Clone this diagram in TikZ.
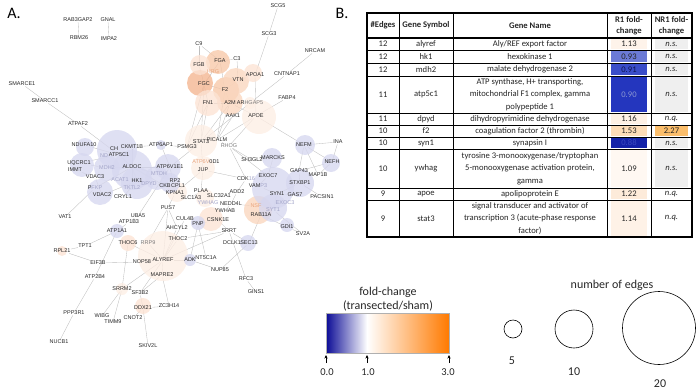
\documentclass[tikz,border=0pt]{standalone}
\usepackage{fontspec}
\setmainfont{Carlito}
\newfontfamily\netfont{Liberation Sans}
\usetikzlibrary{arrows.meta,backgrounds}
\definecolor{lk}{HTML}{262626}
\definecolor{gb}{HTML}{A2A4C8}
\definecolor{go}{HTML}{E9A67F}
\definecolor{gg}{HTML}{7A7A7A}
\definecolor{edgec}{HTML}{BEBEBE}
\definecolor{bl}{HTML}{D6D7EF}
\definecolor{o1}{HTML}{F4B590}
\definecolor{o2}{HTML}{F7C8A8}
\definecolor{o3}{HTML}{FAD6BE}
\definecolor{o4}{HTML}{FCE3D4}
\definecolor{o5}{HTML}{FDEEE4}
\definecolor{fbar}{HTML}{0B0B96}
\definecolor{obar}{HTML}{FF7A00}
\definecolor{ralyref}{HTML}{FEF3EA}
\definecolor{rhk}{HTML}{6B7AD6}
\definecolor{rmdh}{HTML}{3A4DC9}
\definecolor{ratp}{HTML}{2436BE}
\definecolor{rdpyd}{HTML}{FEF1E5}
\definecolor{rf}{HTML}{FDDDB8}
\definecolor{rsyn}{HTML}{1422A8}
\definecolor{rywhag}{HTML}{FFF8F2}
\definecolor{rapoe}{HTML}{FDEBDA}
\definecolor{rstat}{HTML}{FEF2E7}
\definecolor{nsgray}{HTML}{EFEFEF}
\definecolor{nforange}{HTML}{FBBE6C}
\definecolor{tmdh}{HTML}{0E1450}
\definecolor{tatp}{HTML}{8A96D2}
\definecolor{tsyn}{HTML}{3A4AC0}
\definecolor{barframe}{HTML}{B0B0B0}
\tikzset{
 lbl/.style={font=\netfont\fontsize{5.5}{6}\selectfont, text=lk, inner sep=0.3pt},
 lblb/.style={lbl, text=gb},
 lblo/.style={lbl, text=go},
 lblg/.style={lbl, text=gg},
 edge/.style={draw=edgec, line width=0.35pt},
 tcell/.style={font=\fontsize{8.6}{12.3}\selectfont, inner sep=0pt, align=center, text=lk},
 thead/.style={tcell, font=\bfseries\fontsize{8.6}{11}\selectfont},
 leg/.style={font=\fontsize{12}{14}\selectfont, inner sep=0pt, text=lk},
 tick/.style={font=\fontsize{10.5}{12}\selectfont, inner sep=0pt, text=lk},
 sizec/.style={draw=black, circle, inner sep=0pt, line width=0.6pt},
 upar/.style={-{Stealth[length=3.6pt,width=3.2pt]}, line width=0.4pt},
}
\newcommand\netbub[4]{\fill[#4, fill opacity=0.78] (#1,#2) circle[radius=#3pt];}
\begin{document}
\begin{tikzpicture}[x=1pt,y=-1pt]
\path[use as bounding box] (0,0) rectangle (696,391);
\node[font=\fontsize{16}{18}\selectfont, inner sep=0pt] (titleA) at (14,13) {A.};
\node[font=\fontsize{16}{18}\selectfont, inner sep=0pt] (titleB) at (342,13) {B.};

% ---------------- network labels
\node[lbl] (RAB3GAP2) at (78,20) {RAB3GAP2};
\node[lbl] (RBM26) at (79,38) {RBM26};
\node[lbl] (GNAL) at (108,20) {GNAL};
\node[lbl] (IMPA2) at (109,39) {IMPA2};
\node[lbl] (SMARCE1) at (22,84) {SMARCE1};
\node[lbl] (SMARCC1) at (45,101) {SMARCC1};
\node[lbl] (ATPAF2) at (78,124) {ATPAF2};
\node[lbl] (SCG5) at (278,6) {SCG5};
\node[lbl] (SCG3) at (269,34) {SCG3};
\node[lbl] (NRCAM) at (315,51) {NRCAM};
\node[lbl] (CNTNAP1) at (287,74) {CNTNAP1};
\node[lbl] (FABP4) at (287,98) {FABP4};
\node[lbl] (C9) at (199,44) {C9};
\node[lbl] (FGB) at (199,65) {FGB};
\node[lbl] (FGA) at (220,61) {FGA};
\node[lbl] (C3) at (237,59) {C3};
\node[lblo] (HRG) at (213,72) {HRG};
\node[lbl] (FGC) at (204,84) {FGC};
\node[lbl] (F2) at (225,90) {F2};
\node[lbl] (VTN) at (238,80) {VTN};
\node[lbl] (APOA1) at (255,75) {APOA1};
\node[lbl] (FN1) at (208,103) {FN1};
\node[lbl] (A2M) at (230,103) {A2M};
\node[lbl] (ARHGAP5) at (250,103) {AR{\color{gg}HGAP5}};
\node[lbl] (AAK1) at (233,116) {AAK1};
\node[lbl] (APOE) at (256,116) {APOE};
\node[lbl] (PSMG3) at (187,147) {PSMG3};
\node[lbl] (STAT3) at (201,142) {STAT3};
\node[lbl] (PICALM) at (217,140) {PICALM};
\node[lblg] (RHOG) at (229,146) {RHOG};
\node[lbl] (ATP6V0D1) at (206,162) {{\color{go}ATP6V}0D1};
\node[lbl] (JUP) at (203,170) {JUP};
\node[lbl] (NEFM) at (304,145) {NEFM};
\node[lbl] (INA) at (338,142) {INA};
\node[lbl] (NEFH) at (332,162) {NEFH};
\node[lbl] (SH3GL2) at (252,160) {SH3GL2};
\node[lbl] (MARCKS) at (273,158) {MARCKS};
\node[lbl] (EXOC7) at (268,176) {EXOC7};
\node[lbl] (GAP43) at (299,171) {GAP43};
\node[lbl] (MAP1B) at (318,175) {MAP1B};
\node[lbl] (STXBP1) at (300,183) {STXBP1};
\node[lbl] (CDK16) at (246,179) {CDK{\color{gb}16}};
\node[lbl] (VAMP3) at (258,186) {VAM{\color{gb}P3}};
\node[lbl] (ADD2) at (237,192) {ADD2};
\node[lbl] (SYN1) at (277,194) {SYN1};
\node[lbl] (GAS7) at (295,195) {GAS7};
\node[lbl] (PACSIN1) at (322,197) {PACSIN1};
\node[lblb] (EXOC3) at (285,203) {EXOC3};
\node[lblo] (NSF) at (256,206) {NSF};
\node[lblb] (SYT1) at (273,210) {SYT1};
\node[lbl] (RAB11A) at (261,215) {RAB11A};
\node[lbl] (GDI1) at (287,227) {GDI1};
\node[lbl] (SV2A) at (303,234) {SV2A};
\node[lbl] (SLC32A1) at (219,196) {SLC32A1};
\node[lbl] (NEDD4L) at (231,204) {NEDD4L};
\node[lbl] (YWHAB) at (225,211) {YWHAB};
\node[lblb] (YWHAG) at (208,203) {YWHAG};
\node[lbl] (PLAA) at (201,191) {PLAA};
\node[lbl] (SLC1A3) at (191,198) {SLC1A3};
\node[lbl] (KPNA1) at (175,193) {KPNA1};
\node[lbl] (PUS7) at (168,208) {PUS7};
\node[lbl] (CUL4B) at (185,219) {CUL4B};
\node[lbl] (PNP) at (198,224) {PNP};
\node[lbl] (CSNK1E) at (218,220) {CSNK1E};
\node[lbl] (AHCYL2) at (177,228) {AHCYL2};
\node[lbl] (SRRT) at (229,231) {SRRT};
\node[lbl] (THOC2) at (178,239) {THOC2};
\node[lbl] (DCLK1) at (232,243) {DCLK1};
\node[lbl] (SEC13) at (249,243) {SEC13};
\node[lbl] (UBA5) at (138,216) {UBA5};
\node[lbl] (ATP1B3) at (129,222) {ATP1B3};
\node[lbl] (ATP1A1) at (117,231) {ATP1A1};
\node[lbl] (VAT1) at (65,217) {VAT1};
\node[lbl] (RPL21) at (62,251) {RPL21};
\node[lbl] (TPT1) at (85,246) {TPT1};
\node[lbl] (THOC6) at (128,243) {THOC6};
\node[lblg] (RRP9) at (148,243) {RRP9};
\node[lbl] (EIF3B) at (98,263) {EIF3B};
\node[lbl] (NOP58) at (142,262) {NOP58};
\node[lbl] (ALYREF) at (163,260) {ALYREF};
\node[lbl] (ADK) at (190,260) {ADK};
\node[lbl] (NT5C1A) at (206,258) {NT5C1A};
\node[lbl] (NUP85) at (220,270) {NUP85};
\node[lbl] (MAPRE2) at (162,275) {MAPRE2};
\node[lbl] (ATP2B4) at (95,277) {ATP2B4};
\node[lbl] (SRRM2) at (122,289) {SRRM2};
\node[lbl] (SF3B2) at (140,293) {SF3B2};
\node[lbl] (ZC3H14) at (169,306) {ZC3H14};
\node[lbl] (DDX21) at (143,308) {DDX21};
\node[lbl] (PPP3R1) at (74,313) {PPP3R1};
\node[lbl] (WIBG) at (102,316) {WIBG};
\node[lbl] (CNOT2) at (133,318) {CNOT2};
\node[lbl] (TIMM9) at (113,322) {TIMM9};
\node[lbl] (NUCB1) at (59,342) {NUCB1};
\node[lbl] (SKIV2L) at (148,346) {SKIV2L};
\node[lbl] (RFC3) at (246,279) {RFC3};
\node[lbl] (GINS1) at (256,292) {GINS1};
\node[lbl] (NDUFA10) at (84,145) {NDUFA10};
\node[lbl] (CKMT1B) at (132,147) {CKMT1B};
\node[lbl] (CH) at (114,149) {CH};
\node[lblb] (ND) at (104,156) {ND};
\node[lbl] (ATP5C1) at (119,155) {ATP5C1};
\node[lbl] (ATP6AP1) at (161,145) {ATP6AP1};
\node[lbl] (UQCRC1) at (79,163) {UQCRC1};
\node[lbl] (IMMT) at (75,170) {IMMT};
\node[lblb] (MDH2) at (107,168) {MDH2};
\node[lbl] (ALDOC) at (132,167) {ALDOC};
\node[lbl] (ATP6V1E1) at (170,167) {ATP6V1E1};
\node[lblb] (MTDH) at (159,174) {MTDH};
\node[lbl] (VDAC3) at (95,177) {VDAC3};
\node[lblb] (ACAT1) at (120,180) {ACAT1};
\node[lbl] (HK1) at (137,181) {HK1};
\node[lblb] (DPYD) at (149,184) {DPYD};
\node[lbl] (RP2) at (175,181) {RP2};
\node[lbl] (CKB) at (165,186) {CKB};
\node[lbl] (CPL1) at (178,186) {CPL1};
\node[lblb] (TKTL2) at (132,188) {TKTL2};
\node[lbl] (PFKP) at (95,188) {P{\color{gb}FKP}};
\node[lbl] (VDAC2) at (102,195) {VDAC2};
\node[lbl] (CRYL1) at (123,197) {CRYL1};

% ---------------- edges and bubbles behind
\begin{scope}[on background layer]
\foreach \a/\b in {RAB3GAP2/RBM26, GNAL/IMPA2, SMARCE1/SMARCC1, SMARCC1/ATPAF2, ATPAF2/ATP5C1,
 SCG5/SCG3, SCG3/APOA1, NRCAM/CNTNAP1, CNTNAP1/ARHGAP5, FABP4/APOE,
 C9/FGA, C9/FGB, FGB/FGC, FGA/FGC, FGA/F2, FGA/C3, C3/VTN, FGC/F2, F2/VTN, VTN/APOA1, F2/A2M,
 A2M/APOE, APOA1/APOE, FGC/FN1, FN1/A2M, HRG/FGC,
 FN1/STAT3, FN1/PSMG3, FGC/STAT3, FGC/PSMG3, A2M/STAT3, A2M/PICALM, F2/PICALM, AAK1/PICALM,
 APOE/PICALM, APOE/RHOG, ARHGAP5/STAT3, APOE/NEFM,
 NEFM/INA, NEFM/NEFH, INA/NEFH, NEFM/GAP43, NEFM/MAP1B, NEFH/MAP1B, NEFH/GAP43, GAP43/STXBP1,
 STXBP1/PACSIN1, STXBP1/SYN1, SYN1/GAS7, SYN1/SYT1, SYN1/VAMP3, VAMP3/EXOC7, EXOC7/MARCKS,
 MARCKS/SH3GL2, SH3GL2/RHOG, RHOG/EXOC7, RHOG/CDK16, RHOG/PICALM, PICALM/STAT3, STAT3/PSMG3,
 PSMG3/ATP6AP1, ATP6AP1/CKMT1B, ATP6AP1/ATP6V1E1, STAT3/JUP, STAT3/ATP6V1E1, JUP/PLAA, JUP/KPNA1,
 JUP/CDK16, ATP6V1E1/ALDOC, ATP6V1E1/KPNA1, KPNA1/PUS7, PLAA/SLC1A3, SLC32A1/ADD2, ADD2/CDK16,
 ADD2/NEDD4L, NEDD4L/YWHAB, NEDD4L/NSF, RAB11A/GDI1, GDI1/SV2A, SYT1/SV2A, RAB11A/SEC13, NSF/SYT1,
 CSNK1E/SRRT, SRRT/SEC13, SEC13/NUP85, SRRT/RFC3, RFC3/GINS1, SRRT/ALYREF, ADK/NUP85, ADK/PNP,
 PNP/NT5C1A, PNP/CUL4B, CSNK1E/PNP, ADK/ALYREF, PUS7/ALYREF, PUS7/RRP9, THOC2/ALYREF, THOC2/SRRT,
 AHCYL2/ALYREF, THOC6/ALYREF, RRP9/ALYREF, NOP58/ALYREF, MAPRE2/ALYREF, SF3B2/ALYREF, SRRM2/ALYREF,
 NOP58/EIF3B, EIF3B/RPL21, RPL21/TPT1, TPT1/ATP1A1, ATP1A1/ATP1B3, ATP1A1/ATP2B4, ATP2B4/PPP3R1,
 PPP3R1/NUCB1, THOC6/SRRM2, SRRM2/WIBG, SRRM2/TIMM9, SF3B2/DDX21, DDX21/ZC3H14, MAPRE2/ZC3H14,
 DDX21/SKIV2L, DDX21/CNOT2, SF3B2/MAPRE2, VAT1/PFKP, UBA5/ATP6V1E1, UBA5/ATP1B3,
 NDUFA10/ATP5C1, UQCRC1/ATP5C1, ATP5C1/ALDOC, MDH2/ALDOC, HK1/ALDOC, VDAC3/VDAC2, VDAC2/HK1,
 PFKP/ALDOC, DPYD/HK1, CKMT1B/ALDOC, CKB/ALDOC, CRYL1/HK1, TKTL2/ALDOC, IMMT/VDAC3, UQCRC1/MDH2,
 MTDH/ALDOC, PUS7/AHCYL2, CUL4B/ALYREF}
 {\draw[edge] (\a) -- (\b);}
% orange bubbles
\netbub{200}{83}{13}{o1}
\netbub{218}{62}{12}{o2}
\netbub{200}{65}{10}{o4}
\netbub{226}{90}{13}{o2}
\netbub{236}{81}{13}{o3}
\netbub{230}{102}{13}{o3}
\netbub{208}{103}{13}{o4}
\netbub{253}{73}{9}{o4}
\netbub{259}{117}{17}{o5}
\netbub{250}{103}{6}{o5}
\netbub{201}{141}{16}{o5}
\netbub{203}{168}{12}{o5}
\netbub{177}{192}{10}{o5}
\netbub{205}{198}{9}{o5}
\netbub{211}{219}{12}{o4}
\netbub{258}{210}{14}{o3}
\netbub{163}{256}{25}{o5}
\netbub{128}{243}{8}{o4}
\netbub{62}{251}{5}{o4}
\netbub{143}{306}{8}{o4}
\netbub{122}{289}{6}{o5}
% blue bubbles
\netbub{85}{147}{9}{bl}
\netbub{82}{165}{12}{bl}
\netbub{117}{150}{20}{bl}
\netbub{132}{170}{20}{bl}
\netbub{107}{168}{13}{bl}
\netbub{100}{192}{13}{bl}
\netbub{137}{183}{16}{bl}
\netbub{157}{178}{12}{bl}
\netbub{168}{167}{13}{bl}
\netbub{170}{183}{10}{bl}
\netbub{161}{145}{5}{bl}
\netbub{117}{231}{7}{bl}
\netbub{198}{223}{7}{bl}
\netbub{190}{260}{6}{bl}
\netbub{248}{243}{8}{bl}
\netbub{287}{225}{7}{bl}
\netbub{305}{145}{10}{bl}
\netbub{331}{163}{9}{bl}
\netbub{272}{158}{10}{bl}
\netbub{273}{188}{21}{bl}
\netbub{300}{183}{14}{bl}
\netbub{273}{208}{14}{bl}
\end{scope}

% ---------------- table
\fill[fill=white] (367,13) rectangle (692,237);
\fill[ralyref] (611,39) rectangle (647,49);
\fill[rhk] (611,51) rectangle (647,62);
\fill[rmdh] (611,64) rectangle (647,75);
\fill[ratp] (611,77) rectangle (647,112);
\fill[rdpyd] (611,114) rectangle (647,124);
\fill[rf] (611,126) rectangle (647,136);
\fill[rsyn] (611,138) rectangle (647,148);
\fill[rywhag] (611,150) rectangle (647,187);
\fill[rapoe] (611,189) rectangle (647,199);
\fill[rstat] (611,201) rectangle (647,236);
\fill[nsgray] (655,39) rectangle (688,49);
\fill[nsgray] (655,51) rectangle (688,62);
\fill[nsgray] (655,64) rectangle (688,75);
\fill[nsgray] (655,77) rectangle (688,112);
\fill[nforange] (655,126) rectangle (688,136);
\fill[nsgray] (655,138) rectangle (688,148);
\fill[nsgray] (655,150) rectangle (688,187);
\foreach \yy in {50,63,76,113,125,137,149,188,200}
 {\draw[line width=0.5pt] (367,\yy) -- (692,\yy);}
\draw[line width=1.1pt] (367,38) -- (692,38);
\foreach \xx in {399,453,607}
 {\draw[line width=0.9pt] (\xx,13) -- (\xx,237);}
\draw[line width=0.6pt] (651,13) -- (651,237);
\draw[line width=1.3pt] (367,13) rectangle (692,237);
\node[thead] (h1) at (383,25.5) {\#Edges};
\node[thead] (h2) at (426,25.5) {Gene Symbol};
\node[thead] (h3) at (530,25.5) {Gene Name};
\node[thead] (h4) at (629,25.5) {R1 fold-\\change};
\node[thead] (h5) at (671.5,25.5) {NR1 fold-\\change};
\node[tcell] (e1) at (383,44) {12};
\node[tcell] (s1) at (426,44) {alyref};
\node[tcell] (n1) at (530,44) {Aly/REF export factor};
\node[tcell] (r1) at (629,44) {1.13};
\node[tcell] (q1) at (671.5,44) {\itshape n.s.};
\node[tcell] (e2) at (383,56.5) {12};
\node[tcell] (s2) at (426,56.5) {hk1};
\node[tcell] (n2) at (530,56.5) {hexokinase 1};
\node[tcell] (r2) at (629,56.5) {0.93};
\node[tcell] (q2) at (671.5,56.5) {\itshape n.s.};
\node[tcell] (e3) at (383,69.5) {12};
\node[tcell] (s3) at (426,69.5) {mdh2};
\node[tcell] (n3) at (530,69.5) {malate dehydrogenase 2};
\node[tcell, text=tmdh] (r3) at (629,69.5) {0.91};
\node[tcell] (q3) at (671.5,69.5) {\itshape n.s.};
\node[tcell] (e4) at (383,94.5) {11};
\node[tcell] (s4) at (426,94.5) {atp5c1};
\node[tcell] (n4) at (530,94.5) {ATP synthase, H+ transporting,\\mitochondrial F1 complex, gamma\\polypeptide 1};
\node[tcell, text=tatp] (r4) at (629,94.5) {0.90};
\node[tcell] (q4) at (671.5,94.5) {\itshape n.s.};
\node[tcell] (e5) at (383,119) {11};
\node[tcell] (s5) at (426,119) {dpyd};
\node[tcell] (n5) at (530,119) {dihydropyrimidine dehydrogenase};
\node[tcell] (r5) at (629,119) {1.16};
\node[tcell] (q5) at (671.5,119) {\itshape n.q.};
\node[tcell] (e6) at (383,131) {10};
\node[tcell] (s6) at (426,131) {f2};
\node[tcell] (n6) at (530,131) {coagulation factor 2 (thrombin)};
\node[tcell] (r6) at (629,131) {1.53};
\node[tcell] (q6) at (671.5,131) {2.27};
\node[tcell] (e7) at (383,143) {10};
\node[tcell] (s7) at (426,143) {syn1};
\node[tcell] (n7) at (530,143) {synapsin I};
\node[tcell, text=tsyn] (r7) at (629,143) {0.88};
\node[tcell] (q7) at (671.5,143) {\itshape n.s.};
\node[tcell] (e8) at (383,168.5) {10};
\node[tcell] (s8) at (426,168.5) {ywhag};
\node[tcell] (n8) at (530,168.5) {tyrosine 3-monooxygenase/tryptophan\\5-monooxygenase activation protein,\\gamma};
\node[tcell] (r8) at (629,168.5) {1.09};
\node[tcell] (q8) at (671.5,168.5) {\itshape n.s.};
\node[tcell] (e9) at (383,194) {9};
\node[tcell] (s9) at (426,194) {apoe};
\node[tcell] (n9) at (530,194) {apolipoprotein E};
\node[tcell] (r9) at (629,194) {1.22};
\node[tcell] (q9) at (671.5,194) {\itshape n.q.};
\node[tcell] (e10) at (383,218.5) {9};
\node[tcell] (s10) at (426,218.5) {stat3};
\node[tcell] (n10) at (530,218.5) {signal transducer and activator of\\transcription 3 (acute-phase response\\factor)};
\node[tcell] (r10) at (629,218.5) {1.14};
\node[tcell] (q10) at (671.5,218.5) {\itshape n.q.};

% ---------------- fold-change legend
\node[leg] (fctitle) at (388,292) {fold-change};
\node[leg] (fcsub) at (388,306) {(transected/sham)};
\shade[left color=fbar, right color=white] (326,313) rectangle (367,353);
\shade[left color=white, right color=obar] (367,313) rectangle (449,353);
\draw[barframe, line width=0.4pt] (326,313) rectangle (449,353);
\coordinate (a0b) at (326,363); \coordinate (a0t) at (326,355);
\coordinate (a1b) at (367,363); \coordinate (a1t) at (367,355);
\coordinate (a3b) at (449,363); \coordinate (a3t) at (449,355);
\draw[upar] (a0b) -- (a0t);
\draw[upar] (a1b) -- (a1t);
\draw[upar] (a3b) -- (a3t);
\node[tick] (t0) at (327,372) {0.0};
\node[tick] (t1) at (368,372) {1.0};
\node[tick] (t3) at (448,372) {3.0};

% ---------------- size legend
\node[leg] (netitle) at (612,285) {number of edges};
\node[sizec, minimum size=18pt] (c5) at (513,329) {};
\node[sizec, minimum size=38pt] (c10) at (574,329) {};
\node[sizec, minimum size=73pt] (c20) at (659,328) {};
\node[leg] (l5) at (512,361) {5};
\node[leg] (l10) at (574,372) {10};
\node[leg] (l20) at (660,384) {20};
\end{tikzpicture}
\end{document}
